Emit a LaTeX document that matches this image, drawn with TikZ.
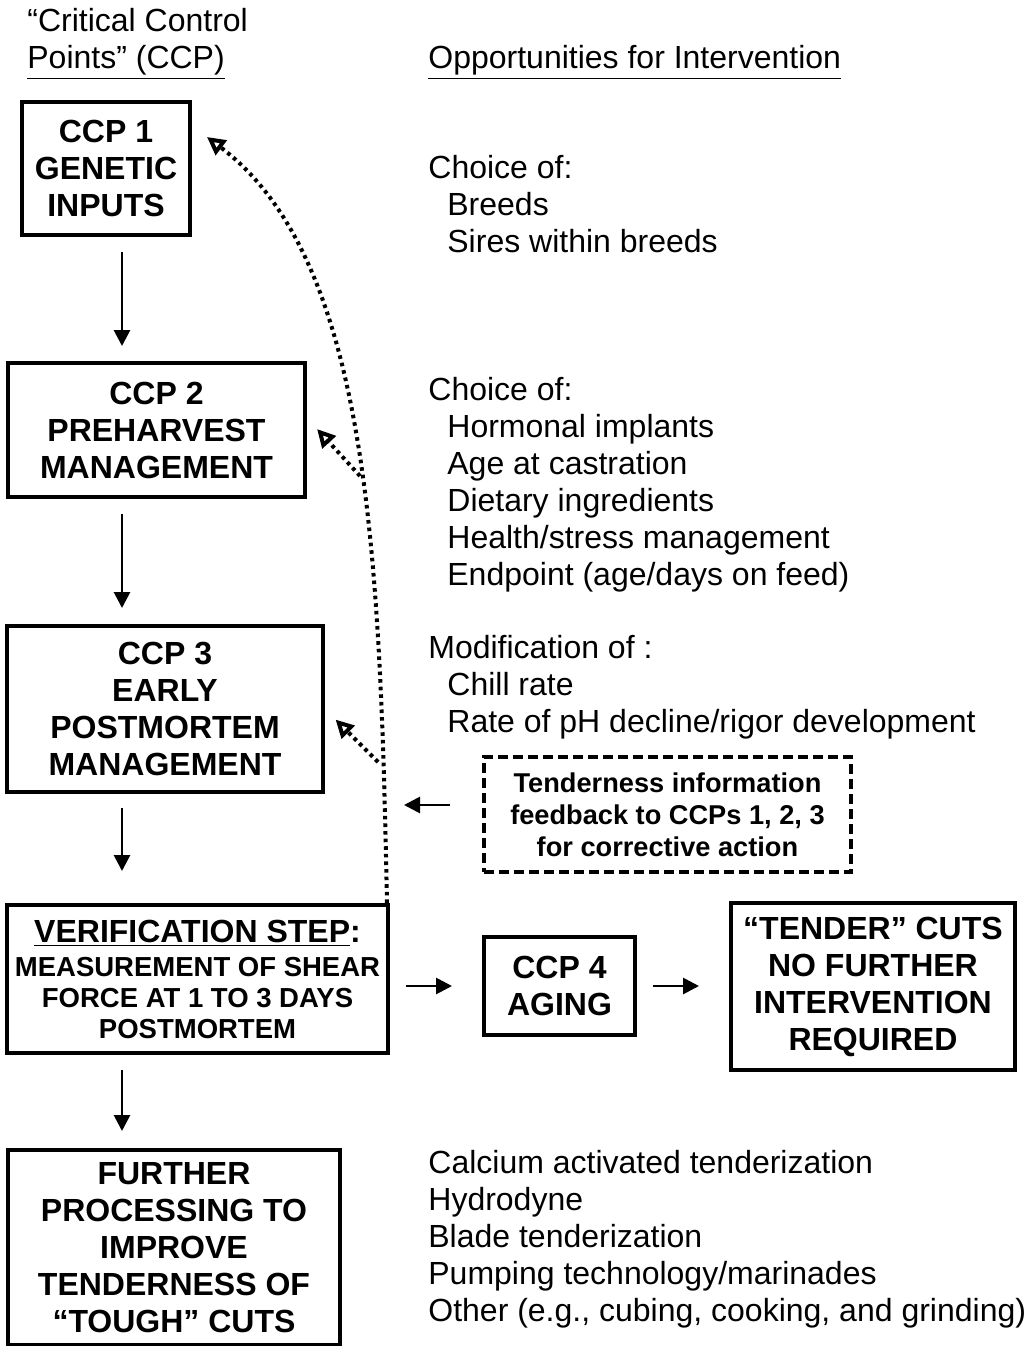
\documentclass[tikz,border=0pt]{standalone}
\usepackage{fontspec}
\setmainfont{Liberation Sans}
\usetikzlibrary{arrows.meta, positioning, calc}

\newcommand{\boxfont}{\fontsize{16}{18.5}\selectfont\bfseries}
\newcommand{\listfont}{\fontsize{16}{18.5}\selectfont}
\newcommand{\verifsmall}{\fontsize{13.75}{15.5}\selectfont\bfseries}
\newcommand{\notefont}{\fontsize{13.6}{16}\selectfont\bfseries}

\tikzset{
  ccpbox/.style={draw, line width=2pt, align=center, font=\boxfont, inner sep=0pt},
  notebox/.style={draw, line width=2pt, dash pattern=on 5pt off 2.5pt, align=center, font=\notefont, inner sep=0pt},
  optext/.style={anchor=north west, align=left, inner sep=0pt, font=\listfont},
  flow/.style={line width=1.4pt, -{Triangle[length=8pt,width=8pt]}},
  feedback/.style={line width=2pt, dash pattern=on 1.8pt off 2pt, -{Triangle[open,length=9pt,width=9pt]}}
}

\begin{document}
\begin{tikzpicture}[x=0.5pt, y=-0.5pt]
    \useasboundingbox (0,0) rectangle (1036,1346);

    % Column headings
    \node[optext] (ccphead) at (27,8) {“Critical Control\\\underline{Points” (CCP)}};
    \node[optext] (opphead) at (428,45) {\underline{Opportunities for Intervention}};

    % Control point boxes
    \node[ccpbox, minimum width=84pt, minimum height=66.5pt] (ccp1) at (106,168.5) {CCP 1\\GENETIC\\INPUTS};
    \node[ccpbox, minimum width=148.5pt, minimum height=67pt] (ccp2) at (156.5,430) {CCP 2\\PREHARVEST\\MANAGEMENT};
    \node[ccpbox, minimum width=158pt, minimum height=83pt] (ccp3) at (165,709) {CCP 3\\EARLY\\POSTMORTEM\\MANAGEMENT};
    \node[ccpbox, minimum width=190.5pt, minimum height=74pt] (verif) at (197.5,979)
        {\underline{VERIFICATION STEP}:\\[-1.5pt]{\verifsmall MEASUREMENT OF SHEAR}\\[-3pt]{\verifsmall FORCE AT 1 TO 3 DAYS}\\[-3pt]{\verifsmall POSTMORTEM}};
    \node[ccpbox, minimum width=166pt, minimum height=97.5pt] (further) at (174,1247.5) {FURTHER\\PROCESSING TO\\IMPROVE\\TENDERNESS OF\\“TOUGH” CUTS};
    \node[ccpbox, minimum width=75.5pt, minimum height=49pt] (ccp4) at (559.5,986) {CCP 4\\AGING};
    \node[ccpbox, minimum width=142pt, minimum height=83.5pt] (tender) at (873,986.5) {“TENDER” CUTS\\NO FURTHER\\INTERVENTION\\REQUIRED};

    % Feedback note
    \node[notebox, minimum width=183.5pt, minimum height=57.5pt] (note) at (667.5,814.5) {Tenderness information\\feedback to CCPs 1, 2, 3\\for corrective action};

    % Opportunities for intervention
    \node[optext] (opp1) at (428,155) {Choice of:\\\hspace*{9.5pt}Breeds\\\hspace*{9.5pt}Sires within breeds};
    \node[optext] (opp2) at (428,377) {Choice of:\\\hspace*{9.5pt}Hormonal implants\\\hspace*{9.5pt}Age at castration\\\hspace*{9.5pt}Dietary ingredients\\\hspace*{9.5pt}Health/stress management\\\hspace*{9.5pt}Endpoint (age/days on feed)};
    \node[optext] (opp3) at (428,635) {Modification of :\\\hspace*{9.5pt}Chill rate\\\hspace*{9.5pt}Rate of pH decline/rigor development};
    \node[optext] (opp4) at (428,1150) {Calcium activated tenderization\\Hydrodyne\\Blade tenderization\\Pumping technology/marinades\\Other (e.g., cubing, cooking, and grinding)};

    % Main flow
    \coordinate (spine) at (122,0);
    \draw[flow, shorten <=7.5pt, shorten >=7.5pt] (ccp1.south -| spine) -- (ccp2.north -| spine);
    \draw[flow, shorten <=7.5pt, shorten >=8pt] (ccp2.south -| spine) -- (ccp3.north -| spine);
    \draw[flow, shorten <=7pt, shorten >=16pt] (ccp3.south -| spine) -- (verif.north -| spine);
    \draw[flow, shorten <=7.5pt, shorten >=8.5pt] (verif.south -| spine) -- (further.north -| spine);
    \draw[flow, shorten <=8pt, shorten >=15pt] (verif.east |- ccp4.west) -- (ccp4.west);
    \draw[flow, shorten <=8pt, shorten >=15pt] (ccp4.east) -- (tender.west |- ccp4.east);

    % Feedback arrows
    \coordinate (fbin) at (404,805);
    \draw[flow, shorten <=16pt] (note.west |- fbin) -- (fbin);
    \coordinate (fbtop) at ([xshift=-1.5pt]verif.north east);
    \coordinate (fb2) at (360,476);
    \coordinate (fb3) at (378,762);
    \draw[feedback] (fbtop) .. controls (380,560) and (370,260) .. ([xshift=7.5pt,yshift=15.75pt]ccp1.east);
    \draw[feedback, shorten >=7.5pt] (fb2) -- ([yshift=6pt]ccp2.east);
    \draw[feedback, shorten >=7.5pt] (fb3) -- (ccp3.east);

\end{tikzpicture}
\end{document}
